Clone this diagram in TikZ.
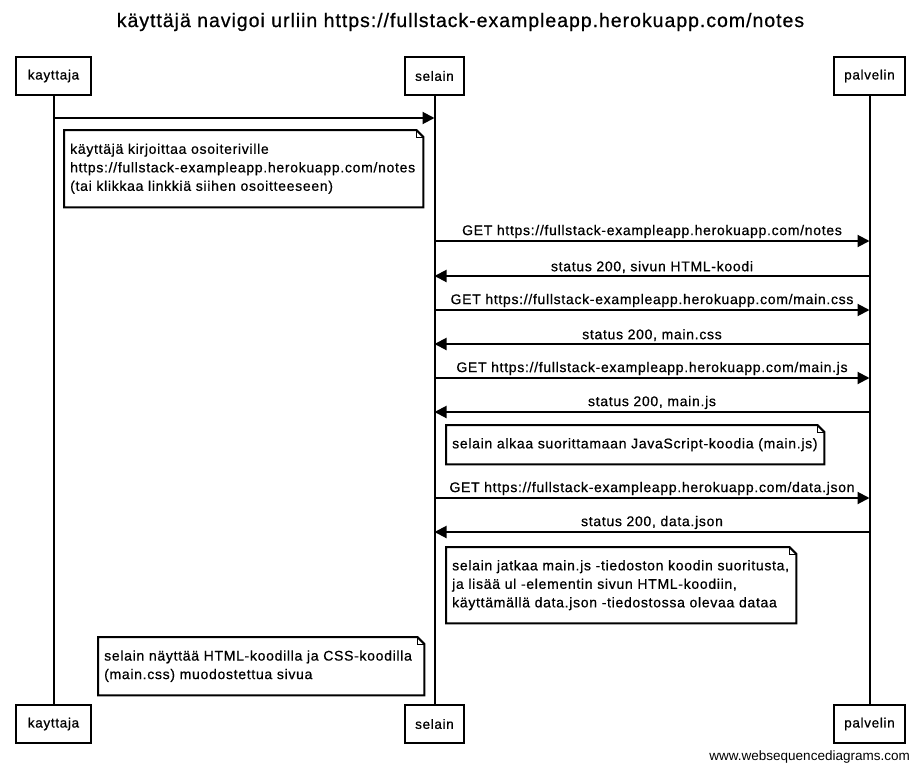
\documentclass[tikz,border=0pt]{standalone}
\usepackage{fontspec}
\setmainfont{Liberation Sans}[LetterSpace=5,FakeBold=0.7]
\newfontfamily\wmfont{Liberation Sans}
\usetikzlibrary{arrows.meta,positioning}

% note outline with a folded corner
\newcommand\notecorner[1]{%
  \draw[line width=2pt] (#1.north west) -- ([xshift=-7pt]#1.north east) -- ([yshift=-7pt]#1.north east) -- (#1.south east) -- (#1.south west) -- cycle;
  \draw[line width=1pt] ([xshift=-7pt]#1.north east) -- ([xshift=-7pt,yshift=-7pt]#1.north east) -- ([yshift=-7pt]#1.north east);}

\begin{document}
\begin{tikzpicture}[x=1pt,y=-1pt,
  actor/.style={draw, line width=2pt, minimum height=38pt, inner xsep=0pt, font=\fontsize{13.5}{15}\selectfont},
  life/.style={line width=2pt},
  msg/.style={line width=2pt, -{Triangle[length=12pt,width=12pt]}},
  lbl/.style={font=\fontsize{14}{16}\selectfont, inner sep=2pt},
  note/.style={anchor=north west, align=left, inner xsep=6pt, inner ysep=0pt, font=\fontsize{14}{18.5}\selectfont}]
\useasboundingbox (0,0) rectangle (921,771);

\node[font=\fontsize{19.5}{22}\selectfont] (title) at (460.5,22) {käyttäjä navigoi urliin https://fullstack-exampleapp.herokuapp.com/notes};

% participants
\node[actor, minimum width=75pt] (kT) at (53.5,76) {kayttaja};
\node[actor, minimum width=59pt] (sT) at (434.5,76) {selain};
\node[actor, minimum width=71pt] (pT) at (869.5,76) {palvelin};
\node[actor, minimum width=75pt] (kB) at (53.5,724) {kayttaja};
\node[actor, minimum width=59pt] (sB) at (434.5,724) {selain};
\node[actor, minimum width=71pt] (pB) at (869.5,724) {palvelin};

\draw[life] (kT) -- (kB);
\draw[life] (sT) -- (sB);
\draw[life] (pT) -- (pB);

% messages
\coordinate (y0) at (0,118);
\coordinate (from0) at (kT |- y0);
\coordinate (to0) at (sT |- y0);
\draw[msg] (from0) -- (to0);

\foreach \y/\a/\b/\txt [count=\i] in {
  241/sT/pT/{GET https://fullstack-exampleapp.herokuapp.com/notes},
  276/pT/sT/{status 200, sivun HTML-koodi},
  310/sT/pT/{GET https://fullstack-exampleapp.herokuapp.com/main.css},
  344/pT/sT/{status 200, main.css},
  378/sT/pT/{GET https://fullstack-exampleapp.herokuapp.com/main.js},
  412/pT/sT/{status 200, main.js},
  498/sT/pT/{GET https://fullstack-exampleapp.herokuapp.com/data.json},
  532/pT/sT/{status 200, data.json}}{
  \coordinate (y\i) at (0,\y);
  \coordinate (from\i) at (\a |- y\i);
  \coordinate (to\i) at (\b |- y\i);
  \draw[msg] (from\i) -- node[lbl, above] (m\i) {\txt} (to\i);
}

% notes
\node[note, text width=347pt, minimum height=77pt] (nKirj) at (64,130) {käyttäjä kirjoittaa osoiteriville\\https://fullstack-exampleapp.herokuapp.com/notes\\(tai klikkaa linkkiä siihen osoitteeseen)};
\notecorner{nKirj}
\node[note, text width=366pt, minimum height=39pt] (nAlkaa) at (446,425) {selain alkaa suorittamaan JavaScript-koodia (main.js)};
\notecorner{nAlkaa}
\node[note, text width=338pt, minimum height=76pt] (nJatkaa) at (446,547) {selain jatkaa main.js -tiedoston koodin suoritusta,\\ja lisää ul -elementin sivun HTML-koodiin,\\käyttämällä data.json -tiedostossa olevaa dataa};
\notecorner{nJatkaa}
\node[note, text width=314pt, minimum height=58pt] (nNayttaa) at (98,637) {selain näyttää HTML-koodilla ja CSS-koodilla\\(main.css) muodostettua sivua};
\notecorner{nNayttaa}

\node[anchor=base east, inner sep=0pt, font=\wmfont\fontsize{13.5}{16}\selectfont] (wm) at (910,760) {www.websequencediagrams.com};
\end{tikzpicture}
\end{document}
